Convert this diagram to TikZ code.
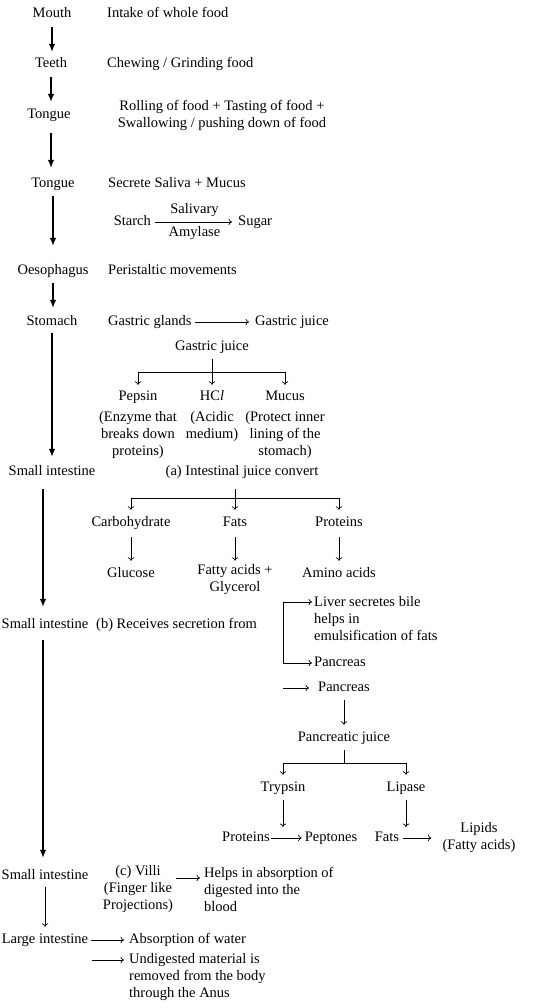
\documentclass[tikz,border=0pt]{standalone}
\usepackage{fontspec}
\setmainfont{Liberation Serif}
\usetikzlibrary{arrows.meta,calc}
\begin{document}
\begin{tikzpicture}[x=1pt,y=-1pt,
  every node/.style={font=\fontsize{14.5}{17}\selectfont, inner sep=1pt},
  one/.style={text height=9.5pt,text depth=2.5pt},
  multi/.style={align=center},
  multil/.style={align=left},
  big/.style={line width=1.2pt,-{Latex[length=8pt,width=6.5pt]}},
  thin/.style={line width=0.7pt,-{To[length=3.5pt,width=6.5pt]}},
  thinboth/.style={line width=0.7pt,{To[length=3.5pt,width=6.5pt]}-{To[length=3.5pt,width=6.5pt]}},
  plain/.style={line width=0.7pt}]
\useasboundingbox (0,0) rectangle (536,1008);
\fill[white] (0,0) rectangle (536,1008);

% main column
\node[one] (mouth) at (52,14) {Mouth};
\node[one,anchor=west] (intake) at (106,14) {Intake of whole food};
\node[one] (teeth) at (51,64) {Teeth};
\node[one,anchor=west] (chew) at (106,64) {Chewing / Grinding food};
\node[one] (tongue1) at (49,115) {Tongue};
\node[multi] (roll) at (222,115) {Rolling of food + Tasting of food +\\Swallowing / pushing down of food};
\node[one] (tongue2) at (53,184) {Tongue};
\node[one,anchor=west] (secrete) at (107,184) {Secrete Saliva + Mucus};
\node[one,anchor=east] (starch) at (152,222) {Starch};
\node[one,anchor=west] (sugar) at (237,222) {Sugar};
\draw[thin,shorten <=3pt,shorten >=5pt] (starch) -- node[one,above=5pt] (saliv) {Salivary} node[one,below=4pt] (amyl) {Amylase} (sugar);
\node[one] (oeso) at (53,271) {Oesophagus};
\node[one,anchor=west] (peri) at (107,271) {Peristaltic movements};
\node[one] (stomach) at (52,322) {Stomach};
\node[one,anchor=west] (glands) at (107,322) {Gastric glands};
\node[one,anchor=west] (gjuice1) at (254,322) {Gastric juice};
\draw[thin,shorten <=2pt,shorten >=5pt] (glands) -- (gjuice1);

% gastric juice branch
\node[one] (gjuice2) at (212,347) {Gastric juice};
\node[one] (pepsin) at (138,397) {Pepsin};
\node[one] (hcl) at (212,397) {HC\textit{l}};
\node[one] (mucus) at (285,397) {Mucus};
\node[multi] (pepd) at (138,435) {(Enzyme that\\breaks down\\proteins)};
\node[multi] (hcld) at (212,427) {(Acidic\\medium)};
\node[multi] (mucd) at (285,435) {(Protect inner\\lining of the\\stomach)};
\coordinate (gj) at (212,372);
\draw[thin,shorten <=5pt,shorten >=5pt] (gjuice2.south) -- (gjuice2.south |- hcl.north);
\draw[plain] (pepsin |- gj) -- (mucus |- gj);
\draw[thin,shorten >=5pt] (pepsin |- gj) -- (pepsin.north);
\draw[thin,shorten >=5pt] (mucus |- gj) -- (mucus.north);

% small intestine (a)
\node[one] (si1) at (52,472) {Small intestine};
\node[one] (intj) at (242,472) {(a) Intestinal juice convert};
\node[one] (carb) at (131,523) {Carbohydrate};
\node[one] (fats) at (235,523) {Fats};
\node[one] (prot) at (339,523) {Proteins};
\node[one] (gluc) at (131,574) {Glucose};
\node[multi] (fatty) at (235,580) {Fatty acids +\\Glycerol};
\node[one] (amino) at (339,574) {Amino acids};
\coordinate (ib) at (235,498);
\draw[thin,shorten <=10pt,shorten >=6pt] (intj.south -| ib) -- (ib |- fats.north);
\draw[plain] (carb |- ib) -- (prot |- ib);
\draw[thin,shorten >=6pt] (carb |- ib) -- (carb.north);
\draw[thin,shorten >=6pt] (prot |- ib) -- (prot.north);
\draw[thin,shorten <=7pt,shorten >=6pt] (carb.south) -- (gluc.north);
\draw[thin,shorten <=7pt,shorten >=3pt] (fats.south) -- (fats.south |- fatty.north);
\draw[thin,shorten <=7pt,shorten >=6pt] (prot.south) -- (amino.north);

% small intestine (b)
\node[one] (si2) at (45,625) {Small intestine};
\node[one,anchor=west] (recv) at (95,625) {(b) Receives secretion from};
\node[multil,anchor=west] (liver) at (313,619) {Liver secretes bile\\helps in\\emulsification of fats};
\node[one,anchor=west] (panc1) at (313,663) {Pancreas};
\coordinate (brt) at (283,602);
\draw[thinboth,shorten <=1pt,shorten >=1pt] (liver.west |- brt) -| (brt |- panc1.west) -- (panc1.west);
\node[one,anchor=west] (panc2) at (317,688) {Pancreas};
\coordinate (p2a) at (283,688);
\draw[thin,shorten >=8pt] (p2a) -- (panc2.west);
\node[one] (pjuice) at (344,738) {Pancreatic juice};
\draw[thin,shorten <=5pt,shorten >=6pt] (panc2.south) -- (panc2.south |- pjuice.north);
\node[one] (tryp) at (283,788) {Trypsin};
\node[one] (lip) at (406,788) {Lipase};
\coordinate (pb) at (344,763);
\draw[plain,shorten <=5pt] (pjuice.south) -- (pjuice.south |- pb);
\draw[plain] (tryp |- pb) -- (lip |- pb);
\draw[thin,shorten >=6pt] (tryp |- pb) -- (tryp.north);
\draw[thin,shorten >=6pt] (lip |- pb) -- (lip.north);
\coordinate (te) at (283,827);
\coordinate (le) at (406,827);
\draw[thin,shorten <=5pt] (tryp.south) -- (te);
\draw[thin,shorten <=5pt] (lip.south) -- (le);
\node[one] (prot2) at (246,838) {Proteins};
\node[one] (pept) at (331,838) {Peptones};
\draw[thin,shorten >=2pt] (prot2) -- (pept);
\node[one] (fats2) at (387,838) {Fats};
\node[multi] (lipids) at (479,838) {Lipids\\(Fatty acids)};
\draw[thin,shorten <=3pt,shorten >=10pt] (fats2.east) -- (fats2.east -| lipids.west);

% small intestine (c)
\node[one] (si3) at (45,876) {Small intestine};
\node[multi] (villi) at (138,889) {(c) Villi\\(Finger like\\Projections)};
\node[multil,anchor=west] (helps) at (203,889) {Helps in absorption of\\digested into the\\blood};
\coordinate (va) at (0,878);
\draw[thin,shorten <=2pt,shorten >=3pt] (villi.east |- va) -- (helps.west |- va);

% large intestine
\node[one] (li) at (45,940) {Large intestine};
\node[one,anchor=west] (absw) at (128,940) {Absorption of water};
\node[multil,anchor=west] (undig) at (128,977) {Undigested material is\\removed from the body\\through the Anus};
\draw[thin,shorten <=2pt,shorten >=4pt] (li.east) -- (absw.west);
\coordinate (ua) at (92,960);
\draw[thin,shorten >=4pt] (ua) -- (undig.west |- ua);

% main arrows
\coordinate (colB) at (43,0);
\draw[big,shorten <=6pt,shorten >=5pt] (mouth.south) -- (mouth.south |- teeth.north);
\draw[big,shorten <=6pt,shorten >=6pt] (teeth.south) -- (teeth.south |- tongue1.north);
\draw[big,shorten <=11pt,shorten >=9pt] (tongue1.south -| teeth) -- (teeth |- tongue2.north);
\draw[big,shorten <=5pt,shorten >=18pt] (tongue2.south) -- (tongue2.south |- oeso.north);
\draw[big,shorten <=5pt,shorten >=7pt] (oeso.south) -- (oeso.south |- stomach.north);
\draw[big,shorten <=4pt,shorten >=8pt] (stomach.south) -- (stomach.south |- si1.north);
\draw[big,shorten <=10pt,shorten >=11pt] (si1.south -| colB) -- (si2.north -| colB);
\draw[big,shorten <=8pt,shorten >=11pt] (si2.south -| colB) -- (si3.north -| colB);
\draw[thin,shorten <=4pt,shorten >=6pt] (si3.south) -- (li.north);
\end{tikzpicture}
\end{document}
